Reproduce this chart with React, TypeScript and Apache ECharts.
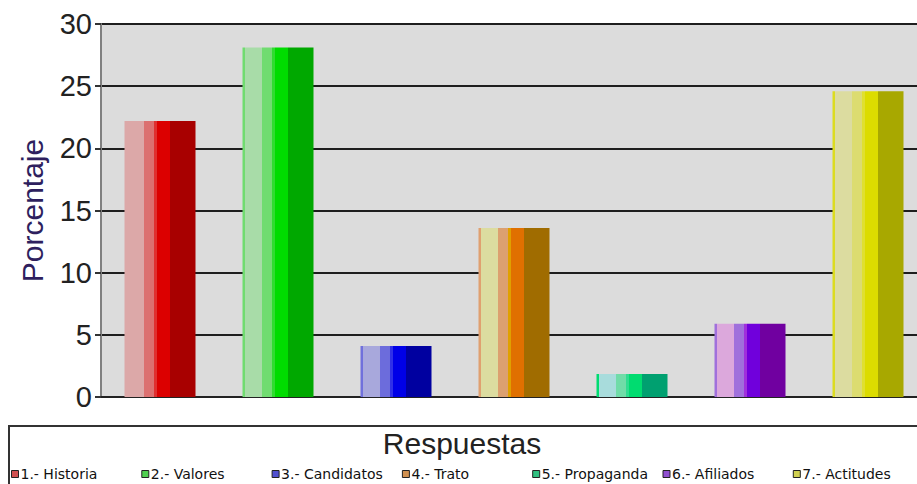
import React, { useEffect, useRef } from "react";
import * as echarts from "echarts";

const categories = ["Historia", "Valores", "Candidatos", "Trato", "Propaganda", "Afiliados", "Actitudes"];
const legendLabels = [
  "1.- Historia",
  "2.- Valores",
  "3.- Candidatos",
  "4.- Trato",
  "5.- Propaganda",
  "6.- Afiliados",
  "7.- Actitudes",
];
const values = [22.2, 28.1, 4.1, 13.6, 1.85, 5.9, 24.6];
const yTicks = [0, 5, 10, 15, 20, 25, 30];

// [edge, light, mid, transition, bright, dark]
const palettes = [
  ["#dca8a8", "#dca8a8", "#dc7070", "#e03030", "#dc0000", "#a80000"],
  ["#70dc70", "#a8dca8", "#70dc70", "#30dc30", "#00dc00", "#00a800"],
  ["#7070dc", "#a8a8dc", "#6c6cdc", "#3030e8", "#0000e8", "#0000a0"],
  ["#e0a070", "#dcdca0", "#dca070", "#e0a000", "#e07000", "#a06c00"],
  ["#00dc70", "#a8dcdc", "#70dca8", "#30dc90", "#00dc70", "#00a070"],
  ["#a070dc", "#dca8dc", "#a070dc", "#a030dc", "#7000dc", "#7000a0"],
  ["#dcdc20", "#dcdca0", "#dcdc70", "#e0e030", "#dcdc00", "#a8a800"],
];
const legendColors = ["#d05050", "#50d050", "#5050d0", "#d09050", "#30c080", "#9050d0", "#d0d050"];

function stripes(p: string[]) {
  const s = [0, 0.04, 0.27, 0.41, 0.46, 0.64, 1];
  const stops: { offset: number; color: string }[] = [];
  for (let i = 0; i < p.length; i++) {
    stops.push({ offset: s[i], color: p[i] });
    stops.push({ offset: s[i + 1], color: p[i] });
  }
  return { type: "linear", x: 0, y: 0, x2: 1, y2: 0, colorStops: stops };
}

export default function App() {
  const ref = useRef<HTMLDivElement>(null);
  useEffect(() => {
    if (!ref.current) return;
    const chart = echarts.init(ref.current, null, { renderer: "svg" });
    const series = categories.map((c, i) => ({
      name: legendLabels[i],
      type: "bar",
      barGap: "-100%",
      barWidth: 71,
      itemStyle: { color: stripes(palettes[i]) },
      data: categories.map((_, j) => (j === i ? values[i] : null)),
    }));
    const legends = legendLabels.map((n, i) => ({
      left: 11 + i * 130.3,
      top: 467,
      orient: "horizontal",
      itemWidth: 7,
      itemHeight: 7,
      icon: "rect",
      padding: 0,
      textStyle: {
        color: "#111",
        fontSize: 14,
        fontFamily: "DejaVu Sans",
        padding: [0, 0, 0, -3],
      },
      data: [
        {
          name: n,
          itemStyle: { color: legendColors[i], borderColor: "#222", borderWidth: 1 },
        },
      ],
    }));
    chart.setOption({
      animation: false,
      backgroundColor: "#ffffff",
      grid: {
        left: 101,
        width: 826,
        top: 24,
        bottom: 87,
        outerBoundsMode: "none",
        show: true,
        backgroundColor: "#dcdcdc",
        borderWidth: 0,
      },
      xAxis: {
        type: "category",
        data: categories,
        axisLine: { show: true, lineStyle: { color: "#222", width: 2 } },
        axisTick: { show: false },
        axisLabel: { show: false },
        splitLine: { show: false },
      },
      yAxis: {
        type: "value",
        min: 0,
        max: 30,
        interval: 5,
        name: "Porcentaje",
        nameLocation: "middle",
        nameGap: 54,
        nameTextStyle: { color: "#2e1f5e", fontSize: 30, fontFamily: "Liberation Sans" },
        axisLine: { show: true, lineStyle: { color: "#808080", width: 2 } },
        axisTick: { show: true, length: 6, lineStyle: { color: "#333", width: 2 } },
        axisLabel: {
          color: "#222",
          fontSize: 29,
          fontFamily: "Liberation Sans",
          margin: 9,
          formatter: (v: number) => (yTicks.includes(v) ? String(v) : ""),
        },
        splitLine: { show: true, lineStyle: { color: "#1e1e1e", width: 2 } },
      },
      legend: legends,
      graphic: [
        {
          type: "rect",
          z: 0,
          shape: { x: 9, y: 426, width: 940, height: 70 },
          style: { fill: "#ffffff", stroke: "#333", lineWidth: 2 },
        },
        {
          type: "text",
          z: 1,
          x: 462,
          y: 443,
          style: {
            text: "Respuestas",
            fontSize: 30,
            fontFamily: "Liberation Sans",
            fill: "#222",
            align: "center",
            verticalAlign: "middle",
          },
        },
      ],
      series,
    });
    return () => chart.dispose();
  }, []);
  return (
    <div
      ref={ref}
      style={{ position: "fixed", left: 0, top: 0, width: 950, height: 484 }}
    />
  );
}
